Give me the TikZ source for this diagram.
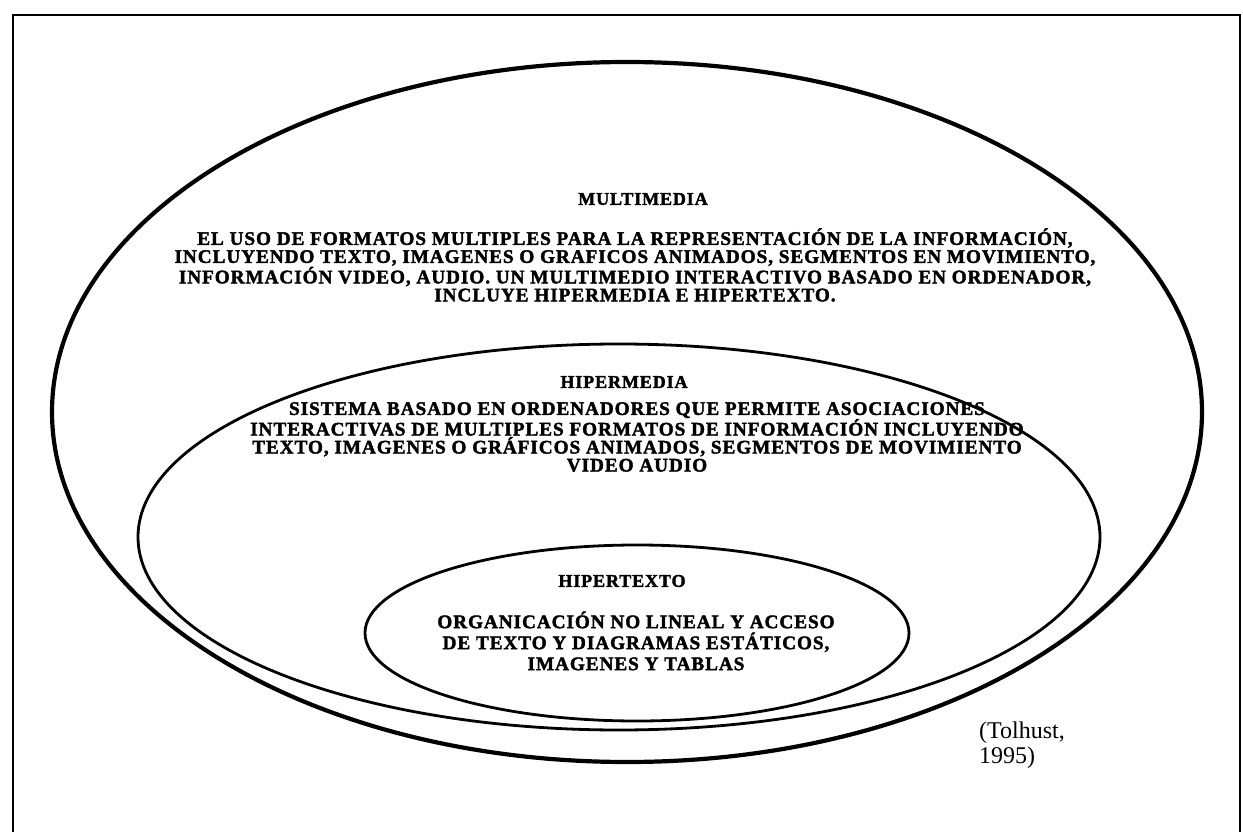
\documentclass[tikz,border=0pt]{standalone}
\usepackage{fontspec}
\setmainfont{Liberation Serif}[BoldFeatures={FakeBold=2}]
\newfontfamily\spaced{Liberation Serif}[LetterSpace=5,BoldFeatures={FakeBold=2}]
\usetikzlibrary{shapes.geometric}
\begin{document}
\begin{tikzpicture}[x=1pt,y=-1pt,
  ring/.style={ellipse,draw,inner sep=0pt,outer sep=0pt},
  body/.style={align=center,font=\spaced\fontsize{19.2}{18}\selectfont\bfseries,inner sep=0pt},
  ttl/.style={font=\spaced\fontsize{18}{18}\selectfont\bfseries,inner sep=0pt}]
\useasboundingbox (0,0) rectangle (1243,832);
\draw[line width=1.6pt] (13,832) -- (13,15) -- (1240,15) -- (1240,832);
\node[ring,line width=4.2pt,minimum width=1150pt,minimum height=700pt] (outer) at (627,412) {};
\node[ring,line width=2.8pt,minimum width=962pt,minimum height=386pt] (mid) at (619,537) {};
\node[ring,line width=2.8pt,minimum width=544pt,minimum height=176pt] (inner) at (637,633) {};
\node[ttl] (t1) at (643,199) {MULTIMEDIA};
\node[body] (b1) at (635,265) {EL USO DE FORMATOS MULTIPLES PARA LA REPRESENTACIÓN DE LA INFORMACIÓN,\\
INCLUYENDO TEXTO, IMAGENES O GRAFICOS ANIMADOS, SEGMENTOS EN MOVIMIENTO,\\
INFORMACIÓN VIDEO, AUDIO. UN MULTIMEDIO INTERACTIVO BASADO EN ORDENADOR,\\
INCLUYE HIPERMEDIA E HIPERTEXTO.};
\node[ttl] (t2) at (624,382) {HIPERMEDIA};
\node[body] (b2) at (637,437) {SISTEMA BASADO EN ORDENADORES QUE PERMITE ASOCIACIONES\\
INTERACTIVAS DE MULTIPLES FORMATOS DE INFORMACIÓN INCLUYENDO\\
TEXTO, IMAGENES O GRÁFICOS ANIMADOS, SEGMENTOS DE MOVIMIENTO\\
VIDEO AUDIO};
\node[ttl] (t3) at (622,581) {HIPERTEXTO};
\node[body,font=\spaced\fontsize{19.2}{21}\selectfont\bfseries] (b3) at (636,641) {ORGANICACIÓN NO LINEAL Y ACCESO\\
DE TEXTO Y DIAGRAMAS ESTÁTICOS,\\
IMAGENES Y TABLAS};
\node[align=left,anchor=north west,inner sep=0pt,font=\fontsize{24}{25}\selectfont] (src) at (979,722) {(Tolhust,\\1995)};
\end{tikzpicture}
\end{document}
